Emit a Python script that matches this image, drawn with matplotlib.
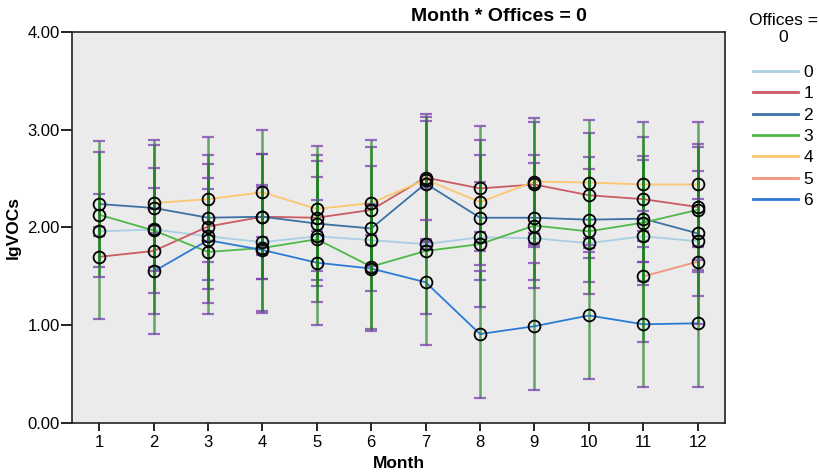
import numpy as np
import matplotlib
matplotlib.use('Agg')
import matplotlib.pyplot as plt
from matplotlib.ticker import FormatStrFormatter

plt.rcParams['font.family'] = ['Liberation Sans', 'DejaVu Sans']

nan = np.nan
months = np.arange(1, 13)

# mean lgVOCs per office group
lg_0 = [1.96, 1.98, 1.91, 1.85, 1.91, 1.87, 1.83, 1.90, 1.89, 1.84, 1.91, 1.86]
lg_1 = [1.70, 1.76, 2.01, 2.11, 2.10, 2.18, 2.51, 2.40, 2.44, 2.33, 2.29, 2.21]
lg_2 = [2.24, 2.20, 2.10, 2.11, 2.04, 1.99, 2.45, 2.10, 2.10, 2.08, 2.09, 1.94]
lg_3 = [2.13, 1.97, 1.75, 1.79, 1.88, 1.60, 1.76, 1.83, 2.02, 1.96, 2.05, 2.18]
lg_4 = [nan, 2.25, 2.29, 2.36, 2.19, 2.25, 2.49, 2.26, 2.47, 2.46, 2.44, 2.44]
lg_5 = [nan, nan, nan, nan, nan, nan, nan, nan, nan, nan, 1.50, 1.65]
lg_6 = [nan, 1.55, 1.87, 1.77, 1.64, 1.58, 1.44, 0.91, 0.99, 1.10, 1.01, 1.02]

# half width of the error bars
ci_0 = [0.05, 0.04, 0.05, 0.05, 0.05, 0.05, 0.05, 0.05, 0.05, 0.05, 0.05, 0.05]
ci_1 = [0.64, 0.64, 0.64, 0.64, 0.64, 0.64, 0.65, 0.64, 0.64, 0.64, 0.64, 0.64]
ci_2 = [0.64, 0.64, 0.64, 0.64, 0.64, 0.64, 0.64, 0.64, 0.64, 0.64, 0.64, 0.64]
ci_3 = [0.64, 0.64, 0.64, 0.64, 0.64, 0.64, 0.64, 0.64, 0.64, 0.64, 0.64, 0.64]
ci_4 = [nan, 0.65, 0.64, 0.64, 0.64, 0.64, 0.64, 0.64, 0.65, 0.64, 0.64, 0.64]
ci_5 = [nan, nan, nan, nan, nan, nan, nan, nan, nan, nan, 0.67, 0.64]
ci_6 = [nan, 0.64, 0.64, 0.64, 0.64, 0.64, 0.64, 0.65, 0.65, 0.65, 0.64, 0.65]

labels = ['0', '1', '2', '3', '4', '5', '6']
means = [lg_0, lg_1, lg_2, lg_3, lg_4, lg_5, lg_6]
cis = [ci_0, ci_1, ci_2, ci_3, ci_4, ci_5, ci_6]
colors = ['#a9cfe4', '#cc5a62', '#3c71a3', '#4fb849', '#fbc66e', '#f3957c', '#2b7bd6']

fig = plt.figure(figsize=(8.19, 4.74), dpi=100)
ax = fig.add_axes([0.088, 0.1076, 0.797, 0.8249])
ax.set_facecolor('#ebebeb')

handles = []
for lab, y, ci, c in zip(labels, means, cis, colors):
    y = np.array(y, dtype=float)
    ci = np.array(ci, dtype=float)
    h, = ax.plot(months, y, color=c, lw=1.3, zorder=2, label=lab)
    handles.append(h)
    ax.errorbar(months, y, yerr=ci, fmt='none', ecolor='#1b7d1b', elinewidth=1.8,
                alpha=0.65, capsize=0, zorder=3)
    ok = ~np.isnan(y)
    ax.plot(months[ok], y[ok] + ci[ok], ls='none', marker='_', ms=9, mew=1.6,
            color='#7a3fb0', alpha=0.75, zorder=3)
    ax.plot(months[ok], y[ok] - ci[ok], ls='none', marker='_', ms=9, mew=1.6,
            color='#7a3fb0', alpha=0.75, zorder=3)
    ax.plot(months, y, ls='none', marker='o', ms=8.5, mfc='none', mec='black',
            mew=1.3, zorder=4)

ax.set_xlim(0.5, 12.5)
ax.set_ylim(0, 4)
ax.set_xticks(months)
ax.set_yticks([0, 1, 2, 3, 4])
ax.yaxis.set_major_formatter(FormatStrFormatter('%.2f'))
ax.tick_params(axis='y', length=8, width=1.2, labelsize=12, pad=1)
ax.tick_params(axis='x', length=6, width=1.2, labelsize=12, pad=3)
for s in ax.spines.values():
    s.set_linewidth(1.2)
    s.set_color('#222222')

ax.set_xlabel('Month', fontsize=12.5, fontweight='bold', labelpad=4)
ax.set_ylabel('lgVOCs', fontsize=12.5, fontweight='bold', labelpad=5)
fig.text(0.609, 0.965, 'Month * Offices = 0', fontsize=14, fontweight='bold',
         ha='center', va='center')

leg = fig.legend(handles=handles, labels=labels, title='Offices =\n0',
                 loc='upper left', bbox_to_anchor=(0.895, 1.006), frameon=False,
                 fontsize=12.5, title_fontsize=12.5, handlelength=2.6,
                 handletextpad=0.3, labelspacing=0.36)
leg.get_title().set_multialignment('center')
leg._legend_box.sep = 14
for line in leg.get_lines():
    line.set_linewidth(2)

fig.savefig('out.png', dpi=100)
